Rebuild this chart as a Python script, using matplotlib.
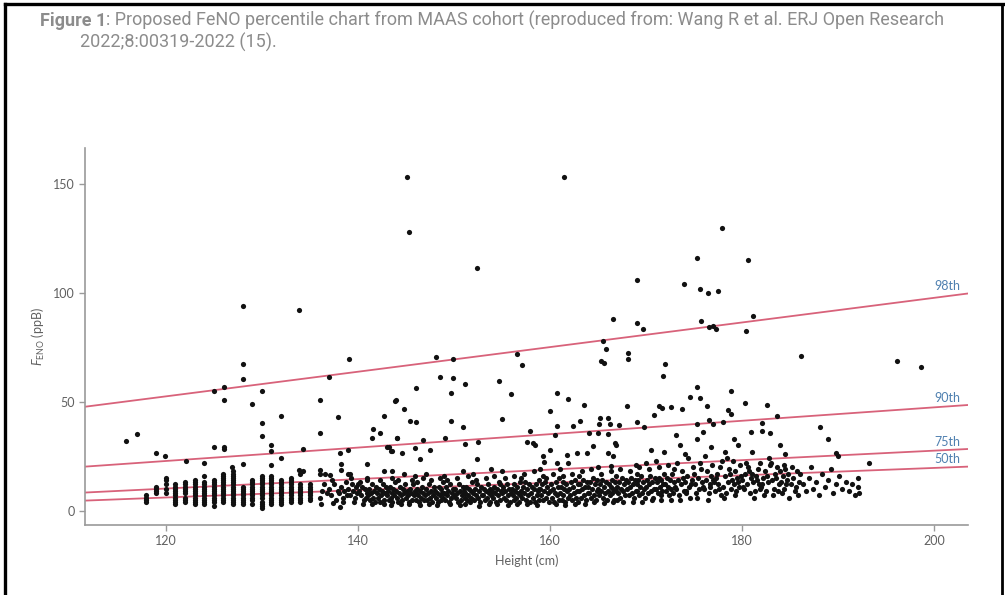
import matplotlib
matplotlib.use('Agg')
import matplotlib.pyplot as plt
from matplotlib.lines import Line2D

plt.rcParams['font.family'] = ['Lato', 'DejaVu Sans']
plt.rcParams['mathtext.fontset'] = 'custom'
plt.rcParams['mathtext.rm'] = 'Lato'
plt.rcParams['mathtext.it'] = 'Lato:italic'

# --- data ---
# children: heights recorded in whole cm, so each height makes a column
child_heights = [118, 119, 120, 121, 122, 123, 124, 125, 126, 127, 128, 129, 130, 131, 132, 133, 134, 135]
child_feno = [
    [4, 5, 6, 7],
    [8, 9, 10, 11],
    [8, 10, 12, 14, 15],
    [3, 4, 5, 6, 7, 8, 9, 10, 11, 12],
    [4, 5, 6, 8, 9, 10, 11, 12, 13],
    [3, 4, 5, 6, 7, 8, 9, 10, 11, 12, 13, 14],
    [3, 4, 5, 6, 7, 8, 9, 10, 11, 12, 13, 16],
    [2, 4, 5, 6, 7, 8, 9, 10, 11, 12, 13, 14],
    [4, 5, 6, 7, 8, 9, 10, 11, 12, 13, 14, 15, 16, 17],
    [3, 4, 5, 6, 7, 8, 9, 10, 11, 12, 13, 14, 15, 16, 17, 18],
    [3, 4, 5, 6, 7, 8, 9, 10, 11],
    [3, 5, 6, 7, 8, 9, 10, 11, 12, 13, 14],
    [1, 2, 3, 4, 6, 7, 8, 9, 10, 11, 12, 13, 14, 15, 16],
    [3, 4, 5, 6, 7, 8, 9, 10, 11, 12, 13, 14, 15, 16],
    [3, 4, 5, 6, 7, 8, 9, 10, 11, 12, 13, 14],
    [4, 5, 6, 7, 8, 9, 10, 11, 12, 13, 14, 15],
    [4, 5, 6, 7, 8, 9, 10, 11, 12, 17],
    [5, 6, 7, 8, 9, 10, 11, 12],
]

# dense band of teenagers / adults (height cm, FeNO ppB)
band_136_145 = [
    (136.1, 6), (136.3, 9), (136.5, 12), (136.8, 8), (136.2, 3), (136.6, 17),
    (137.0, 10), (137.2, 7), (137.5, 12), (137.7, 5), (137.9, 9), (137.4, 3.5), (137.3, 14),
    (138.0, 8), (138.2, 11), (138.4, 6), (138.6, 9), (138.8, 13), (138.1, 1.5), (138.5, 4), (138.9, 7),
    (139.0, 10), (139.2, 7), (139.4, 12), (139.5, 9), (139.7, 6), (139.8, 11), (139.3, 15), (139.6, 4), (139.9, 8),
    (140.1, 9), (140.3, 7), (140.4, 11), (140.6, 5), (140.7, 10), (140.9, 8), (140.2, 13), (140.5, 3), (140.8, 6), (140.0, 12),
    (141.1, 7), (141.2, 10), (141.3, 5), (141.4, 8), (141.5, 12), (141.6, 6), (141.7, 9), (141.8, 4), (141.9, 11), (141.0, 14), (141.5, 3),
    (142.0, 8), (142.1, 6), (142.2, 10), (142.3, 4), (142.4, 7), (142.5, 9), (142.6, 12), (142.7, 5), (142.8, 8), (142.9, 11), (142.3, 14), (142.7, 3),
    (143.0, 7), (143.1, 9), (143.2, 5), (143.3, 11), (143.4, 6), (143.5, 8), (143.6, 4), (143.7, 10), (143.8, 7), (143.9, 13), (143.4, 2.5), (143.6, 15),
    (144.0, 9), (144.1, 6), (144.2, 4), (144.3, 8), (144.4, 11), (144.5, 7), (144.6, 5), (144.7, 10), (144.8, 8), (144.9, 12), (144.2, 14), (144.5, 3), (144.8, 17),
    (145.0, 6), (145.1, 9), (145.2, 7), (145.3, 4), (145.4, 10), (145.5, 8), (145.6, 5), (145.7, 12), (145.8, 7), (145.9, 9), (145.3, 3), (145.6, 14), (145.9, 16),
]
band_146_155 = [
    (146.0, 8), (146.1, 5), (146.2, 10), (146.3, 7), (146.4, 4), (146.5, 9), (146.6, 6), (146.7, 11), (146.8, 8), (146.9, 5), (146.2, 13), (146.5, 2.5), (146.8, 15),
    (147.0, 7), (147.1, 10), (147.2, 5), (147.3, 8), (147.4, 12), (147.5, 6), (147.6, 9), (147.7, 4), (147.8, 7), (147.9, 11), (147.4, 3), (147.6, 14), (147.1, 17),
    (148.0, 9), (148.1, 6), (148.2, 8), (148.3, 4), (148.4, 11), (148.5, 7), (148.6, 5), (148.7, 10), (148.8, 8), (148.9, 13), (148.2, 2.5), (148.5, 15), (148.9, 6),
    (149.0, 8), (149.1, 5), (149.2, 11), (149.3, 7), (149.4, 9), (149.5, 4), (149.6, 12), (149.7, 6), (149.8, 8), (149.9, 10), (149.3, 14), (149.6, 3), (149.0, 16),
    (150.0, 7), (150.1, 10), (150.2, 6), (150.3, 8), (150.4, 4), (150.5, 12), (150.6, 9), (150.7, 5), (150.8, 7), (150.9, 11), (150.3, 15), (150.6, 2.5), (150.9, 18),
    (151.0, 9), (151.1, 6), (151.2, 8), (151.3, 11), (151.4, 5), (151.5, 7), (151.6, 10), (151.7, 4), (151.8, 9), (151.9, 13), (151.2, 3), (151.5, 16), (151.8, 6),
    (152.0, 8), (152.1, 5), (152.2, 10), (152.3, 7), (152.4, 12), (152.5, 6), (152.6, 9), (152.7, 4), (152.8, 11), (152.9, 7), (152.3, 14), (152.6, 2), (152.0, 17),
    (153.0, 7), (153.1, 10), (153.2, 5), (153.3, 9), (153.4, 6), (153.5, 12), (153.6, 8), (153.7, 4), (153.8, 10), (153.9, 7), (153.3, 15), (153.6, 3), (153.9, 19),
    (154.0, 9), (154.1, 6), (154.2, 11), (154.3, 8), (154.4, 4), (154.5, 10), (154.6, 7), (154.7, 13), (154.8, 5), (154.9, 9), (154.2, 16), (154.5, 3), (154.8, 12),
    (155.0, 8), (155.1, 11), (155.2, 6), (155.3, 9), (155.4, 5), (155.5, 12), (155.6, 7), (155.7, 10), (155.8, 4), (155.9, 8), (155.3, 15), (155.6, 2.5), (155.0, 18),
]
band_156_165 = [
    (156.0, 10), (156.1, 7), (156.2, 12), (156.3, 5), (156.4, 9), (156.5, 6), (156.6, 11), (156.7, 8), (156.8, 4), (156.9, 13), (156.3, 16), (156.6, 3), (156.9, 7),
    (157.0, 9), (157.1, 6), (157.2, 11), (157.3, 8), (157.4, 13), (157.5, 5), (157.6, 10), (157.7, 7), (157.8, 12), (157.9, 4), (157.3, 17), (157.6, 3), (157.0, 15),
    (158.0, 8), (158.1, 11), (158.2, 6), (158.3, 10), (158.4, 4), (158.5, 12), (158.6, 7), (158.7, 9), (158.8, 14), (158.9, 5), (158.3, 18), (158.6, 2.5), (158.9, 10),
    (159.0, 10), (159.1, 7), (159.2, 12), (159.3, 5), (159.4, 9), (159.5, 13), (159.6, 6), (159.7, 11), (159.8, 8), (159.9, 4), (159.3, 16), (159.6, 15), (159.0, 19),
    (160.0, 9), (160.1, 12), (160.2, 6), (160.3, 10), (160.4, 4), (160.5, 8), (160.6, 13), (160.7, 7), (160.8, 11), (160.9, 5), (160.3, 17), (160.6, 3), (160.9, 15),
    (161.0, 8), (161.1, 11), (161.2, 5), (161.3, 13), (161.4, 7), (161.5, 10), (161.6, 4), (161.7, 12), (161.8, 9), (161.9, 6), (161.3, 16), (161.6, 2.5), (161.0, 19),
    (162.0, 10), (162.1, 7), (162.2, 13), (162.3, 5), (162.4, 11), (162.5, 8), (162.6, 14), (162.7, 6), (162.8, 9), (162.9, 12), (162.3, 17), (162.6, 3), (162.9, 4),
    (163.0, 9), (163.1, 12), (163.2, 6), (163.3, 10), (163.4, 14), (163.5, 7), (163.6, 11), (163.7, 5), (163.8, 13), (163.9, 8), (163.3, 18), (163.6, 3), (163.0, 16),
    (164.0, 11), (164.1, 8), (164.2, 13), (164.3, 6), (164.4, 10), (164.5, 15), (164.6, 7), (164.7, 12), (164.8, 5), (164.9, 9), (164.3, 19), (164.6, 4), (164.9, 14),
    (165.0, 10), (165.1, 7), (165.2, 12), (165.3, 9), (165.4, 14), (165.5, 6), (165.6, 11), (165.7, 8), (165.8, 13), (165.9, 5), (165.3, 17), (165.6, 3.5), (165.0, 20),
]
band_166_175 = [
    (166.0, 9), (166.1, 12), (166.2, 7), (166.3, 11), (166.4, 14), (166.5, 8), (166.6, 10), (166.7, 5), (166.8, 13), (166.9, 9), (166.3, 18), (166.6, 4), (166.9, 16),
    (167.0, 11), (167.1, 8), (167.2, 13), (167.3, 6), (167.4, 10), (167.5, 15), (167.6, 9), (167.7, 12), (167.8, 7), (167.9, 14), (167.3, 19), (167.6, 4), (167.0, 5),
    (168.0, 10), (168.1, 13), (168.2, 7), (168.3, 11), (168.4, 15), (168.5, 8), (168.6, 12), (168.7, 6), (168.8, 14), (168.9, 9), (168.3, 18), (168.6, 4), (168.9, 21),
    (169.0, 12), (169.1, 9), (169.2, 14), (169.3, 7), (169.4, 11), (169.5, 16), (169.6, 8), (169.7, 13), (169.8, 10), (169.9, 6), (169.3, 20), (169.6, 4), (169.0, 17),
    (170.0, 11), (170.1, 14), (170.2, 8), (170.3, 12), (170.4, 16), (170.5, 9), (170.6, 13), (170.7, 6), (170.8, 10), (170.9, 15), (170.3, 19), (170.6, 5), (170.0, 22),
    (171.0, 10), (171.1, 13), (171.2, 8), (171.3, 15), (171.4, 11), (171.5, 7), (171.6, 14), (171.7, 9), (171.8, 12), (171.9, 17), (171.3, 20), (171.6, 5), (171.0, 23),
    (172.0, 12), (172.1, 9), (172.2, 15), (172.3, 11), (172.4, 7), (172.5, 14), (172.6, 10), (172.7, 17), (172.8, 8), (172.9, 13), (172.3, 21), (172.6, 5), (172.9, 19),
    (173.1, 10), (173.3, 14), (173.4, 7), (173.6, 12), (173.7, 18), (173.9, 9), (173.2, 22), (173.5, 5), (173.8, 15), (173.0, 11),
    (174.0, 13), (174.2, 9), (174.3, 16), (174.5, 11), (174.6, 6), (174.8, 14), (174.9, 20), (174.4, 24), (174.1, 8), (174.7, 12),
    (175.1, 12), (175.2, 8), (175.4, 15), (175.5, 10), (175.7, 19), (175.8, 13), (175.3, 6), (175.6, 22), (175.9, 11), (175.0, 17),
]
band_176_193 = [
    (176.0, 10), (176.2, 14), (176.3, 18), (176.5, 8), (176.6, 12), (176.8, 16), (176.9, 21), (176.4, 5), (176.7, 11), (176.1, 25),
    (177.1, 13), (177.2, 9), (177.4, 17), (177.5, 12), (177.7, 20), (177.8, 7), (177.3, 15), (177.6, 10), (177.9, 23), (177.0, 14),
    (178.0, 11), (178.2, 16), (178.3, 8), (178.5, 13), (178.6, 19), (178.8, 10), (178.9, 14), (178.4, 24), (178.1, 6), (178.7, 17),
    (179.1, 12), (179.2, 18), (179.4, 9), (179.5, 15), (179.7, 11), (179.8, 21), (179.3, 7), (179.6, 13), (179.9, 16), (179.0, 23),
    (180.0, 14), (180.2, 10), (180.3, 17), (180.5, 12), (180.6, 20), (180.8, 8), (180.9, 15), (180.4, 22), (180.1, 11), (180.7, 18),
    (181.1, 13), (181.3, 9), (181.4, 16), (181.6, 19), (181.7, 12), (181.9, 22), (181.2, 6), (181.5, 14), (181.8, 10), (181.0, 17),
    (182.0, 11), (182.2, 15), (182.4, 18), (182.5, 9), (182.7, 13), (182.9, 21), (182.3, 7), (182.6, 16), (182.8, 24), (182.1, 12),
    (183.1, 14), (183.3, 10), (183.4, 17), (183.6, 20), (183.8, 12), (183.2, 7), (183.5, 15), (183.9, 18), (183.7, 9), (183.0, 22),
    (184.0, 13), (184.2, 16), (184.4, 10), (184.5, 19), (184.7, 14), (184.9, 6), (184.3, 21), (184.6, 12), (184.8, 17), (184.1, 8),
    (185.1, 12), (185.3, 15), (185.5, 9), (185.7, 18), (185.9, 13), (185.2, 20), (185.6, 11), (185.8, 7),
    (186.0, 17), (186.3, 12), (186.6, 9), (186.9, 15), (187.2, 20), (187.4, 10), (187.7, 13), (188.0, 7),
    (188.3, 17), (188.6, 11), (188.9, 14), (189.2, 19), (189.5, 8), (189.8, 12), (190.1, 16), (190.4, 10),
    (190.8, 13), (191.1, 9), (191.4, 12), (191.7, 7), (192.0, 11), (192.2, 8), (192.0, 15),
]

# scattered high values
outliers = [
    (145.1, 153), (161.5, 153), (145.3, 128), (152.4, 111.3), (177.9, 129.8), (175.3, 116.2),
    (180.6, 115), (169.1, 105.8), (173.9, 104), (175.6, 101.8), (176.4, 100), (177.5, 100.9),
    (128.0, 94), (133.9, 92), (139.1, 69.6), (128.0, 67.2), (128.0, 60.3), (137.0, 61.5),
    (125.0, 54.8), (126.1, 56.7), (126.1, 50.6), (130.0, 54.8), (129.0, 48.8), (136.1, 50.6),
    (132.0, 43.6), (137.9, 42.8), (130.0, 40.2), (130.0, 34.3), (136.1, 35.8), (115.9, 32),
    (117.0, 35), (119.0, 26.5), (119.9, 25.2), (122.1, 22.8), (125.0, 29.2), (126.1, 29.2),
    (126.1, 28.4), (124.0, 21.9), (126.9, 19.9), (128.0, 21.3), (131.0, 30.1), (131.0, 27.3),
    (131.0, 21), (132.0, 24.3), (134.3, 28.3), (133.9, 18.7), (134.3, 18.2), (136.1, 18.7),
    (136.1, 16.7), (137.1, 16.2), (138.1, 26.3), (139.0, 27.8), (138.2, 21.2), (138.2, 18.7),
    (139.0, 16.7), (139.2, 16.7), (141.0, 21.4), (141.0, 15.2), (141.5, 33.5), (141.6, 37.3),
    (142.3, 35.5), (142.7, 43.6), (143.2, 29.1), (143.6, 27.6), (143.9, 50.3), (144.0, 50.8),
    (144.1, 33.2), (142.7, 18.2), (143.6, 18.2),
    (148.1, 70.6), (149.9, 69.7), (156.6, 71.7), (157.1, 66.8), (165.5, 77.8), (165.8, 74),
    (165.3, 68.8), (165.6, 68), (166.6, 87.8), (148.5, 61.5), (149.9, 61), (151.1, 58),
    (149.7, 54.1), (154.7, 59.6), (155.9, 53.5), (146.0, 56.3), (144.8, 46.5), (145.4, 41.1),
    (146.0, 40.5), (149.7, 41.3), (150.9, 38.3), (155.0, 42.1), (144.1, 33.5), (146.8, 32.4),
    (149.1, 33.5), (152.5, 31.5), (151.2, 30.6), (143.0, 29.4), (143.4, 27.5), (144.6, 26.6),
    (145.9, 28.6), (147.5, 27.8), (146.5, 23.6), (152.4, 23.6), (157.9, 36.7), (157.6, 31.7),
    (158.2, 30.9), (158.4, 30), (160.0, 45.9), (160.7, 54.1), (161.9, 51.1), (163.5, 48.6),
    (160.7, 38.9), (160.5, 34.7), (162.4, 38.9), (163.1, 41.1), (160.0, 27.8), (159.3, 25.2),
    (159.4, 22.5), (160.7, 21.7), (161.8, 25.6), (161.9, 21.7), (162.8, 26.6), (163.8, 26.6),
    (164.5, 29.8), (164.1, 35.5), (165.0, 35.5), (165.1, 39.6), (165.2, 42.7), (166.0, 42.7),
    (166.0, 35.2), (166.2, 39.6), (166.8, 30.9), (166.9, 30.3), (166.0, 26.6), (166.6, 25.0),
    (166.3, 20.5), (167.2, 39.3),
    (169.1, 86), (169.7, 83.2), (175.7, 86.9), (176.5, 84.4), (177.0, 84.9), (177.3, 83.5),
    (181.1, 89.4), (180.4, 82.6), (168.1, 72.5), (168.1, 69.7), (172.0, 67.2), (171.8, 61.9),
    (186.1, 71.1), (196.1, 68.7), (198.6, 65.9), (175.3, 56.9), (174.6, 52.3), (175.6, 51.8),
    (178.8, 54.9), (168.0, 48), (171.3, 48), (171.7, 47), (172.6, 47.7), (173.7, 46.8),
    (176.3, 48), (178.5, 46.2), (178.8, 44.4), (180.3, 49.5), (182.6, 48.6), (183.6, 43.6),
    (170.8, 43.8), (169.1, 40.5), (188.1, 38.5), (188.9, 32.9), (189.8, 26.6), (190.0, 25),
    (193.2, 21.7), (175.3, 39.6), (176.5, 41.6), (177.0, 39.9), (178.0, 40.5), (182.1, 40.1),
    (182.1, 36.7), (182.9, 35.5), (180.9, 35.9), (175.9, 36), (175.3, 32.9), (179.1, 32.9),
    (173.1, 34.7), (169.8, 38.5), (170.5, 28), (171.9, 27), (173.5, 30), (174.0, 26),
    (176.8, 29), (178.2, 27), (179.6, 30), (181.0, 27), (183.9, 30), (184.5, 26),
]

# percentile lines: value at the left and right ends of the height axis
line_heights = [111.6, 203.5]
pct_names = ['98th', '90th', '75th', '50th']
pct_left = [47.7, 20.2, 8.3, 4.6]
pct_right = [99.7, 48.5, 28.3, 20.2]

caption_bold = 'Figure 1'
caption_line1 = ': Proposed FeNO percentile chart from MAAS cohort (reproduced from: Wang R et al. ERJ Open Research'
caption_line2 = '2022;8:00319-2022 (15).'

# --- figure ---
fig = plt.figure(figsize=(10.05, 5.95), dpi=100)
ax = fig.add_axes([85 / 1005, 1 - 525 / 595, (968 - 85) / 1005, (525 - 148) / 595])

xs, ys = [], []
for h, vals in zip(child_heights, child_feno):
    xs += [h] * len(vals)
    ys += vals
for group in (band_136_145, band_146_155, band_156_165, band_166_175, band_176_193, outliers):
    xs += [p[0] for p in group]
    ys += [p[1] for p in group]
ax.scatter(xs, ys, s=14, c='#111111', linewidths=0, zorder=3)

for name, lo, hi in zip(pct_names, pct_left, pct_right):
    ax.plot(line_heights, [lo, hi], color='#d8627a', lw=1.3, zorder=2)
    ax.text(line_heights[1] - 0.8, hi + 0.6, name, ha='right', va='bottom',
            color='#4f80b0', fontsize=9)

ax.set_xlim(111.6, 203.5)
ax.set_ylim(-6.6, 166.5)
ax.set_xticks([120, 140, 160, 180, 200])
ax.set_yticks([0, 50, 100, 150])
for s in ['top', 'right']:
    ax.spines[s].set_visible(False)
for s in ['left', 'bottom']:
    ax.spines[s].set_color('#9a9a9a')
    ax.spines[s].set_linewidth(1.2)
ax.tick_params(colors='#9a9a9a', labelcolor='#606060', labelsize=9, length=4, width=1)
ax.set_xlabel('Height (cm)', fontsize=9, color='#606060', labelpad=5)
ax.set_ylabel(r'$F_{\mathrm{ENO}}$ (ppB)', fontsize=9, color='#606060', labelpad=4)

# frame around the figure
fig.add_artist(Line2D([5 / 1005, 5 / 1005], [0, 1 - 4 / 595], color='black', lw=2.4))
fig.add_artist(Line2D([5 / 1005, 1], [1 - 4 / 595, 1 - 4 / 595], color='black', lw=2.4))
fig.add_artist(Line2D([1002 / 1005, 1002 / 1005], [0, 1 - 4 / 595], color='black', lw=2.0))

# caption, sized so the first line spans the same width as in the source
cap_font = ['Roboto', 'DejaVu Sans']
cap_color = '#8c8c8c'
size = 12
t1 = fig.text(40 / 1005, 1 - 26 / 595, caption_bold, fontsize=size, fontweight='bold',
              color=cap_color, family=cap_font)
fig.canvas.draw()
bb = t1.get_window_extent()
t2 = fig.text(bb.x1 / 1005, 1 - 26 / 595, caption_line1, fontsize=size, color=cap_color, family=cap_font)
fig.canvas.draw()
width = t2.get_window_extent().x1 - 40
size = size * 900 / width
t1.set_fontsize(size)
fig.canvas.draw()
t2.set_fontsize(size)
t2.set_x(t1.get_window_extent().x1 / 1005)
fig.text(80 / 1005, 1 - 48 / 595, caption_line2, fontsize=size, color=cap_color, family=cap_font)

fig.savefig('out.png', dpi=100)
